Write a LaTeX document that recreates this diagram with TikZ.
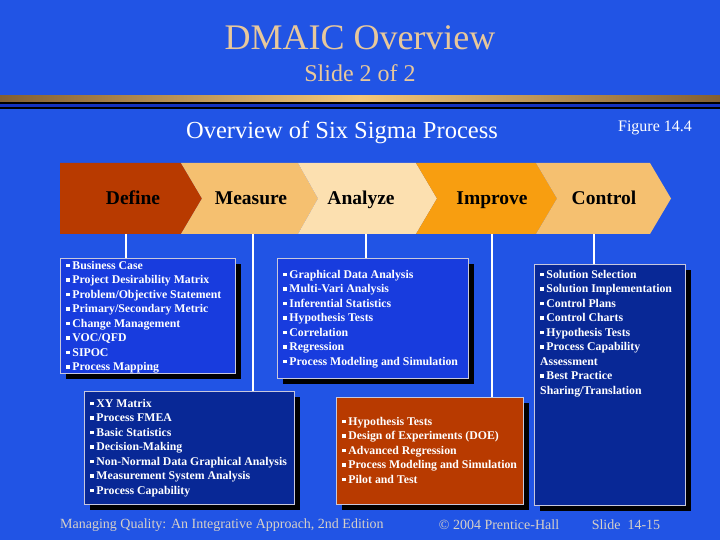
\documentclass[tikz,border=0pt]{standalone}
\usepackage{fontspec}
\setmainfont{Liberation Serif}
\usetikzlibrary{shadows}
\definecolor{bg}{RGB}{33,84,229}
\definecolor{tan}{RGB}{232,200,155}
\definecolor{cdef}{RGB}{184,58,0}
\definecolor{cmea}{RGB}{245,192,112}
\definecolor{cana}{RGB}{252,224,176}
\definecolor{cimp}{RGB}{248,158,16}
\definecolor{bright}{RGB}{24,60,222}
\definecolor{navy}{RGB}{8,40,150}
\definecolor{rust}{RGB}{184,58,0}
\definecolor{boxline}{RGB}{200,200,220}
\definecolor{foot}{RGB}{214,208,200}
\definecolor{golddark}{RGB}{130,95,50}
\definecolor{goldlight}{RGB}{245,200,120}
\definecolor{midblue}{RGB}{20,50,190}
\newcommand{\bul}{\raisebox{0.42ex}{\rule{0.28em}{0.28em}}\hspace{0.25em}}
\tikzset{
  box/.style={draw=boxline, line width=0.8bp, anchor=north west, inner sep=0pt,
    general shadow={fill=black, shadow xshift=6bp, shadow yshift=-6bp}},
  items/.style={anchor=north west, inner sep=0pt, text=white, align=left,
    font=\fontsize{11.8bp}{14.5bp}\selectfont\bfseries},
  phase/.style={font=\fontsize{19.5bp}{22bp}\selectfont\bfseries, text=black, inner sep=0pt, anchor=base},
  conn/.style={draw=white, line width=2bp}
}
\begin{document}
\begin{tikzpicture}[x=1bp,y=-1bp]
\useasboundingbox (0,0) rectangle (720,540);
\fill[bg] (0,0) rectangle (720,540);
% titles
\node[text=tan, font=\fontsize{36bp}{40bp}\selectfont] (title) at (360,38) {DMAIC Overview};
\node[text=tan, font=\fontsize{24bp}{28bp}\selectfont] (sub) at (360,73) {Slide 2 of 2};
% separator
\shade[left color=golddark, right color=golddark, middle color=goldlight] (0,96) rectangle (720,102);
\fill[black] (0,102) rectangle (720,104);
\fill[midblue] (0,104) rectangle (720,107.5);
\fill[black] (0,107.5) rectangle (720,109);
\node[text=white, font=\fontsize{24.5bp}{28bp}\selectfont] (ov) at (342,133) {Overview of Six Sigma Process};
\node[text=white, font=\fontsize{16bp}{18bp}\selectfont] (fig) at (655,128) {Figure 14.4};
% chevrons
\fill[cdef] (60,163) -- (181,163) -- (202,198.5) -- (181,234) -- (60,234) -- cycle;
\fill[cmea] (181,163) -- (298,163) -- (318,198.5) -- (298,234) -- (181,234) -- (202,198.5) -- cycle;
\fill[cana] (298,163) -- (416,163) -- (437,198.5) -- (416,234) -- (298,234) -- (318,198.5) -- cycle;
\fill[cimp] (416,163) -- (536,163) -- (557,198.5) -- (536,234) -- (416,234) -- (437,198.5) -- cycle;
\fill[cmea] (536,163) -- (650,163) -- (671,198.5) -- (650,234) -- (536,234) -- (557,198.5) -- cycle;
\node[phase] (lD) at (133,204.5) {Define};
\node[phase] (lM) at (251,204.5) {Measure};
\node[phase] (lA) at (361,204.5) {Analyze};
\node[phase] (lI) at (492,204.5) {Improve};
\node[phase] (lC) at (604,204.5) {Control};
\coordinate (cD) at (126,234);
\coordinate (cM) at (253,234);
\coordinate (cA) at (366,234);
\coordinate (cI) at (492,234);
\coordinate (cC) at (594,234);
% boxes
\node[box, fill=bright, minimum width=175bp, minimum height=115bp] (bD) at (60,258) {};
\node[box, fill=bright, minimum width=191bp, minimum height=120bp] (bA) at (277,258) {};
\node[box, fill=navy, minimum width=151bp, minimum height=241bp] (bC) at (534,264) {};
\node[box, fill=navy, minimum width=210bp, minimum height=113bp] (bM) at (84,391) {};
\node[box, fill=rust, minimum width=187bp, minimum height=107bp] (bI) at (336,397) {};
% connectors
\draw[conn] (cD) -- (cD |- bD.north);
\draw[conn] (cM) -- (cM |- bM.north);
\draw[conn] (cA) -- (cA |- bA.north);
\draw[conn] (cI) -- (cI |- bI.north);
\draw[conn] (cC) -- (cC |- bC.north);
% texts
\node[items] (tD) at ([xshift=6bp,yshift=-3bp]bD.north west) {\bul Business Case\\
\bul Project Desirability Matrix\\
\bul Problem/Objective Statement\\
\bul Primary/Secondary Metric\\
\bul Change Management\\
\bul VOC/QFD\\
\bul SIPOC\\
\bul Process Mapping};
\node[items] (tA) at ([xshift=6bp,yshift=-12bp]bA.north west) {\bul Graphical Data Analysis\\
\bul Multi-Vari Analysis\\
\bul Inferential Statistics\\
\bul Hypothesis Tests\\
\bul Correlation\\
\bul Regression\\
\bul Process Modeling and Simulation};
\node[items] (tC) at ([xshift=6bp,yshift=-6bp]bC.north west) {\bul Solution Selection\\
\bul Solution Implementation\\
\bul Control Plans\\
\bul Control Charts\\
\bul Hypothesis Tests\\
\bul Process Capability\\
Assessment\\
\bul Best Practice\\
Sharing/Translation};
\node[items] (tM) at ([xshift=6bp,yshift=-8bp]bM.north west) {\bul XY Matrix\\
\bul Process FMEA\\
\bul Basic Statistics\\
\bul Decision-Making\\
\bul Non-Normal Data Graphical Analysis\\
\bul Measurement System Analysis\\
\bul Process Capability};
\node[items] (tI) at ([xshift=6bp,yshift=-20bp]bI.north west) {\bul Hypothesis Tests\\
\bul Design of Experiments (DOE)\\
\bul Advanced Regression\\
\bul Process Modeling and Simulation\\
\bul Pilot and Test};
% footer
\node[text=foot, anchor=west, inner sep=0pt, font=\fontsize{14bp}{16bp}\selectfont] (f1) at (60,525) {Managing Quality: An Integrative Approach, 2nd Edition};
\node[text=foot, inner sep=0pt, font=\fontsize{14bp}{16bp}\selectfont] (f2) at (499,525) {© 2004 Prentice-Hall};
\node[text=foot, inner sep=0pt, font=\fontsize{14bp}{16bp}\selectfont] (f3) at (626,525) {Slide\ \ 14-15};
\end{tikzpicture}
\end{document}
